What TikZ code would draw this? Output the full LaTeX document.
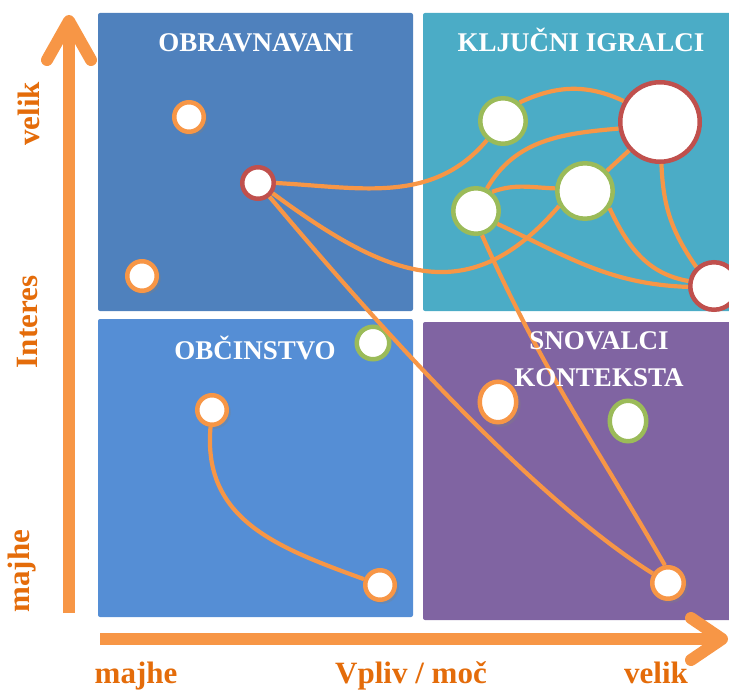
\documentclass[tikz,border=0pt]{standalone}
\usepackage{fontspec}
\setmainfont{Liberation Serif}
\usetikzlibrary{shapes.geometric,shadows}

\definecolor{panelblue}{HTML}{4F81BD}
\definecolor{panelaqua}{HTML}{4BACC6}
\definecolor{panellight}{HTML}{558ED5}
\definecolor{panelpurple}{HTML}{8064A2}
\definecolor{linkorange}{HTML}{F79646}
\definecolor{labelorange}{HTML}{E46C0A}
\definecolor{ringred}{HTML}{C0504D}
\definecolor{ringgreen}{HTML}{9BBB59}

\begin{document}
\begin{tikzpicture}[x=1pt, y=1pt,
  actor/.style={circle, draw=#1, fill=white, line width=4.5pt, inner sep=0pt},
  shade/.style={drop shadow={shadow xshift=2pt, shadow yshift=-2pt, shadow scale=1.12, opacity=0.35}},
  link/.style={draw=linkorange, line width=4.2pt},
  axis/.style={draw=linkorange, line width=12pt},
  title/.style={text=white, font=\bfseries\fontsize{27}{37}\selectfont, inner sep=0pt},
  axislabel/.style={text=labelorange, font=\bfseries\fontsize{31}{31}\selectfont, inner sep=0pt}]

\useasboundingbox (0,0) rectangle (729,-690);

% quadrants
\fill [panelblue, rounded corners=2pt] (98,-13) rectangle (413,-311);
\fill [panelaqua, rounded corners=2pt] (423,-13) rectangle (735,-311);
\fill [panellight, rounded corners=2pt] (98,-319) rectangle (413,-617);
\fill [panelpurple, rounded corners=2pt] (423,-322) rectangle (735,-620);

% axes
\coordinate (yfoot) at (69,-613);
\coordinate (ytip) at (69,-21);
\coordinate (yleft) at (47,-60);
\coordinate (yright) at (91,-60);
\coordinate (xfoot) at (100,-639);
\coordinate (xtip) at (722,-639);
\coordinate (xup) at (691,-618);
\coordinate (xdown) at (691,-660);

\draw [axis] (yfoot) -- (ytip);
\draw [axis, line cap=round, line join=round] (yleft) -- (ytip) -- (yright);
\draw [axis] (xfoot) -- (xtip);
\draw [axis, line cap=round, line join=round] (xup) -- (xtip) -- (xdown);

\node [axislabel, rotate=90, anchor=base] (vhigh) at (39,-114) {velik};
\node [axislabel, rotate=90, anchor=base] (vname) at (37,-322) {Interes};
\node [axislabel, rotate=90, anchor=base] (vlow) at (30,-571) {majhe};
\node [axislabel, anchor=base] (hlow) at (136,-683) {majhe};
\node [axislabel, anchor=base] (hname) at (411,-683) {Vpliv / moč};
\node [axislabel, anchor=base] (hhigh) at (656,-683) {velik};

% stakeholders
\node [actor=linkorange, shade, minimum size=29.5pt] (a1) at (189,-117) {};
\node [actor=linkorange, shade, minimum size=29.5pt] (a2) at (142,-276) {};
\node [actor=ringred, minimum size=31.5pt] (r1) at (258,-183) {};
\node [actor=ringgreen, minimum size=32.5pt] (g1) at (373,-343) {};
\node [actor=linkorange, shade, minimum size=29.5pt] (b1) at (212,-410) {};
\node [actor=linkorange, shade, minimum size=29.5pt] (b2) at (380,-585) {};
\node [actor=ringgreen, minimum size=45.5pt] (g2) at (503,-121) {};
\node [actor=ringred, minimum size=79.5pt] (big) at (660,-122) {};
\node [actor=ringgreen, minimum size=55.5pt] (g3) at (585,-191) {};
\node [actor=ringgreen, minimum size=45.5pt] (g4) at (476,-211) {};
\node [actor=ringred, minimum size=47.5pt] (rs) at (714,-286) {};
\node [actor=linkorange, shade, ellipse, minimum width=36.5pt, minimum height=40.5pt] (o1) at (498,-402) {};
\node [actor=ringgreen, ellipse, minimum width=36.5pt, minimum height=40.5pt] (g5) at (628,-421) {};
\node [actor=linkorange, shade, minimum size=31.5pt] (o2) at (668,-583) {};

% relations
\draw [link] (r1.0) to[out=-3, in=230] (g2.230);
\draw [link] (r1.-35) .. controls (390,-280) and (470,-310) .. (g3.210);
\draw [link] (r1.-50) to[out=-50, in=148, looseness=0.7] (o2.148);
\draw [link] (g4.-76) to[out=-66, in=120] (o2.100);
\draw [link] (g2.48) to[out=25, in=155] (big.150);
\draw [link] (g4.64) to[out=60, in=185] (big.189);
\draw [link] (g4.50) to[out=20, in=178] (g3.175);
\draw [link] (g3) -- (big);
\draw [link] (g3.-35) to[out=-65, in=170] (rs.169);
\draw [link] (g4.-31) to[out=-25, in=178] (rs.182);
\draw [link] (big.-88) to[out=-88, in=125] (rs.133);
\draw [link] (b1.-95) to[out=-95, in=160, looseness=1.1] (b2.160);

% quadrant titles
\node [title, anchor=base] (tobr) at (256,-52) {OBRAVNAVANI};
\node [title, anchor=base] (tklj) at (581,-52) {KLJUČNI IGRALCI};
\node [title, anchor=base] (tobc) at (255,-359) {OBČINSTVO};
\node [title, anchor=north, align=center] (tsno) at (599,-331) {SNOVALCI\\KONTEKSTA};

\end{tikzpicture}
\end{document}
